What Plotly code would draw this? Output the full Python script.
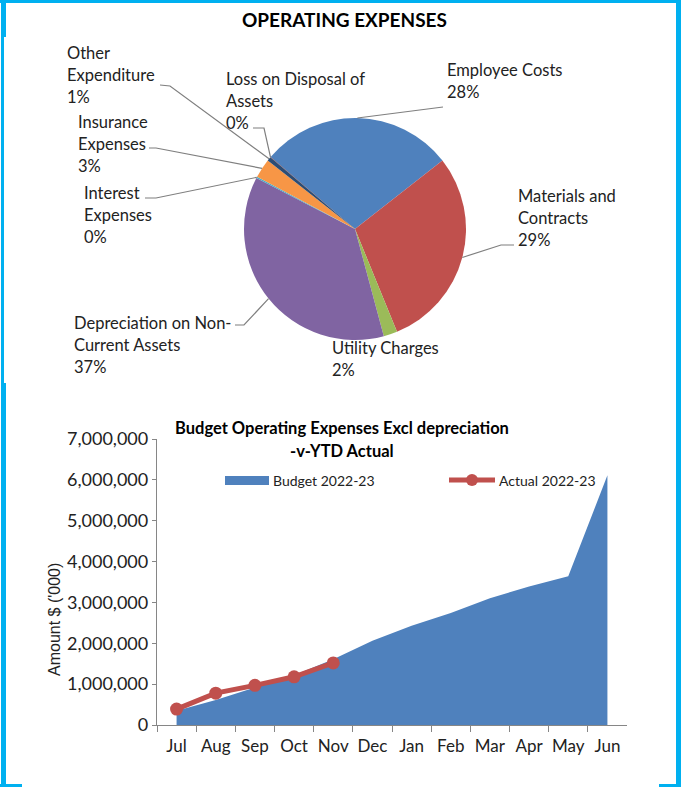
import math
import plotly.graph_objects as go

# ---------------- data ----------------
pie_labels = ["Employee Costs", "Materials and Contracts", "Utility Charges",
              "Depreciation on Non-Current Assets", "Interest Expenses",
              "Insurance Expenses", "Other Expenditure", "Loss on Disposal of Assets"]
pie_values = [28.2, 29.4, 2.0, 36.8, 0.2, 2.8, 0.6, 0.05]

months = ["Jul", "Aug", "Sep", "Oct", "Nov", "Dec", "Jan", "Feb", "Mar", "Apr", "May", "Jun"]
budget = [350000, 610000, 920000, 1220000, 1610000, 2060000, 2430000, 2740000,
          3100000, 3390000, 3640000, 6110000]
actual_months = ["Jul", "Aug", "Sep", "Oct", "Nov"]
actual = [390000, 780000, 970000, 1180000, 1520000]

y_ticks = [0, 1000000, 2000000, 3000000, 4000000, 5000000, 6000000, 7000000]

# ---------------- styling / layout ----------------
W, H = 685, 787
FONT = "Lato"
pie_colors = ["#4F81BD", "#C0504D", "#9BBB59", "#8064A2", "#4BACC6",
              "#F79646", "#2C4D75", "#772C2A"]
BLUE = "#4F81BD"
RED = "#C0504D"
CYAN = "#00B0F0"
GREY = "#868686"
ROT = -49.5

def px(x):
    return x / W

def py(y):
    return 1 - y / H

# pie geometry (pixels)
CX, CY, R = 355, 229, 111

label_lines = {
    "Employee Costs": ["Employee Costs"],
    "Materials and Contracts": ["Materials and", "Contracts"],
    "Utility Charges": ["Utility Charges"],
    "Depreciation on Non-Current Assets": ["Depreciation on Non-", "Current Assets"],
    "Interest Expenses": ["Interest", "Expenses"],
    "Insurance Expenses": ["Insurance", "Expenses"],
    "Other Expenditure": ["Other", "Expenditure"],
    "Loss on Disposal of Assets": ["Loss on Disposal of", "Assets"],
}
label_pos = {
    "Employee Costs": (445, 70),
    "Materials and Contracts": (516, 196),
    "Utility Charges": (330, 348),
    "Depreciation on Non-Current Assets": (72, 323),
    "Interest Expenses": (82, 193),
    "Insurance Expenses": (76, 122),
    "Other Expenditure": (65, 53),
    "Loss on Disposal of Assets": (224, 79),
}
leader_pts = {
    "Employee Costs": [(443, 107)],
    "Materials and Contracts": [(514, 245), (501, 245)],
    "Depreciation on Non-Current Assets": [(235, 325), (244, 325)],
    "Interest Expenses": [(145, 198), (156, 198)],
    "Insurance Expenses": [(149, 148), (156, 148)],
    "Other Expenditure": [(160, 85), (170, 86)],
    "Loss on Disposal of Assets": [(253, 128), (264, 128)],
}
LINE_H = 22

fig = go.Figure()

fig.add_trace(go.Pie(
    labels=pie_labels, values=pie_values, sort=False, direction="clockwise",
    rotation=ROT, textinfo="none", hoverinfo="label+percent",
    marker=dict(colors=pie_colors, line=dict(width=0)),
    domain=dict(x=[px(CX - R), px(CX + R)], y=[py(CY + R), py(CY - R)]),
    showlegend=False,
))

fig.add_trace(go.Scatter(
    x=months, y=budget, mode="lines", fill="tozeroy", fillcolor=BLUE,
    line=dict(width=0, color=BLUE), name="Budget 2022-23", showlegend=False,
    xaxis="x", yaxis="y",
))
fig.add_trace(go.Scatter(
    x=actual_months, y=actual, mode="lines+markers",
    line=dict(width=5, color=RED), marker=dict(size=13, color=RED),
    name="Actual 2022-23", showlegend=False, xaxis="x", yaxis="y",
))

annotations = []
shapes = []

total = sum(pie_values)
cum = 0.0
for lab, v in zip(pie_labels, pie_values):
    mid = ROT + (cum + v / 2) / total * 360
    cum += v
    pct = round(v / total * 100)
    lines = label_lines[lab] + [f"{pct}%"]
    lx, ly = label_pos[lab]
    for i, t in enumerate(lines):
        annotations.append(dict(
            x=px(lx), y=py(ly + i * LINE_H), xref="paper", yref="paper",
            text=t, showarrow=False, xanchor="left", yanchor="middle",
            font=dict(family=FONT, size=16.5, color="#222222"),
        ))
    if lab in leader_pts:
        ax = CX + R * math.sin(math.radians(mid))
        ay = CY - R * math.cos(math.radians(mid))
        pts = leader_pts[lab] + [(ax, ay)]
        path = "M " + " L ".join(f"{px(x)},{py(y)}" for x, y in pts)
        shapes.append(dict(type="path", path=path, xref="paper", yref="paper",
                           line=dict(color="#7F7F7F", width=1.2)))

annotations.append(dict(x=px(344), y=py(20), xref="paper", yref="paper",
                        text="<b>OPERATING EXPENSES</b>", showarrow=False,
                        xanchor="center", yanchor="middle",
                        font=dict(family=FONT, size=19, color="black")))
annotations.append(dict(x=px(342), y=py(428), xref="paper", yref="paper",
                        text="<b>Budget Operating Expenses Excl depreciation</b>",
                        showarrow=False, xanchor="center", yanchor="middle",
                        font=dict(family=FONT, size=16.5, color="black")))
annotations.append(dict(x=px(342), y=py(451), xref="paper", yref="paper",
                        text="<b>-v-YTD Actual</b>",
                        showarrow=False, xanchor="center", yanchor="middle",
                        font=dict(family=FONT, size=16.5, color="black")))
annotations.append(dict(x=px(54), y=py(620), xref="paper", yref="paper",
                        text="Amount $ ('000)", textangle=-90, showarrow=False,
                        xanchor="center", yanchor="middle",
                        font=dict(family="Liberation Sans", size=16, color="#222222")))

# custom legend
shapes.append(dict(type="rect", x0=px(225), x1=px(269), y0=py(485), y1=py(476),
                   xref="paper", yref="paper", fillcolor=BLUE, line=dict(width=0)))
annotations.append(dict(x=px(271), y=py(480), xref="paper", yref="paper",
                        text="Budget 2022-23", showarrow=False, xanchor="left",
                        yanchor="middle", font=dict(family=FONT, size=14, color="#222222")))
shapes.append(dict(type="line", x0=px(449), x1=px(495), y0=py(480), y1=py(480),
                   xref="paper", yref="paper", line=dict(color=RED, width=5)))
shapes.append(dict(type="circle", x0=px(466), x1=px(478), y0=py(486), y1=py(474),
                   xref="paper", yref="paper", fillcolor=RED, line=dict(width=0)))
annotations.append(dict(x=px(497), y=py(480), xref="paper", yref="paper",
                        text="Actual 2022-23", showarrow=False, xanchor="left",
                        yanchor="middle", font=dict(family=FONT, size=14, color="#222222")))

def crect(x0, y0, x1, y1):
    shapes.append(dict(type="rect", x0=px(x0), x1=px(x1), y0=py(y1), y1=py(y0),
                       xref="paper", yref="paper", fillcolor=CYAN,
                       line=dict(width=0), layer="above"))

crect(0, 0, 681, 3)
crect(1, 0, 6, 37)
crect(1, 37, 4, 383)
crect(1, 383, 6, 785)
crect(676, 0, 681, 787)
crect(0, 784, 22, 787)
crect(659, 784, 681, 787)

fig.update_layout(
    width=W, height=H,
    margin=dict(l=0, r=0, t=0, b=0, pad=0, autoexpand=False),
    paper_bgcolor="white", plot_bgcolor="white",
    showlegend=False,
    annotations=annotations,
    shapes=shapes,
    xaxis=dict(
        domain=[px(157), px(627)], type="category", range=[-0.5, 11.5],
        categoryorder="array", categoryarray=months, automargin=False,
        showline=True, linecolor=GREY, linewidth=1.3,
        ticks="outside", tickson="boundaries", ticklen=6, tickcolor=GREY, tickwidth=1.3,
        showgrid=False, zeroline=False, anchor="y", tickangle=0,
        ticklabelstandoff=5,
        tickfont=dict(family=FONT, size=17, color="#222222"),
    ),
    yaxis=dict(
        domain=[py(725), py(439)], range=[0, 7000000], automargin=False,
        tickvals=y_ticks, tickformat=",d",
        showline=True, linecolor=GREY, linewidth=1.3,
        ticks="outside", ticklen=4, tickcolor=GREY, tickwidth=1.3,
        showgrid=False, zeroline=False, anchor="x",
        tickfont=dict(family=FONT, size=18, color="#222222"),
    ),
)

fig.write_html("out.html")
